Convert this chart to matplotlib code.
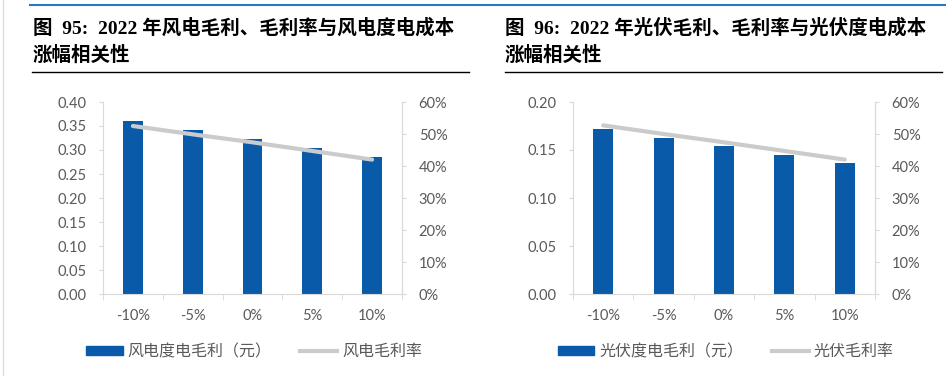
import matplotlib.pyplot as plt
from matplotlib.patches import Patch
from matplotlib.lines import Line2D
from matplotlib.ticker import FuncFormatter

categories = ['-10%', '-5%', '0%', '5%', '10%']

wind_profit = [0.360, 0.341, 0.323, 0.304, 0.286]
wind_margin = [52.5, 49.9, 47.4, 44.7, 42.0]

pv_profit = [0.1715, 0.162, 0.154, 0.1445, 0.1365]
pv_margin = [52.7, 50.0, 47.4, 44.7, 42.0]

titles = ['图  95:  2022 年风电毛利、毛利率与风电度电成本\n涨幅相关性',
          '图  96:  2022 年光伏毛利、毛利率与光伏度电成本\n涨幅相关性']
bar_labels = ['风电度电毛利（元）', '光伏度电毛利（元）']
line_labels = ['风电毛利率', '光伏毛利率']

bar_color = '#0A5AAA'
line_color = '#CBCBCB'
tick_color = '#595959'
axis_color = '#D9D9D9'

num_font = ['Lato', 'Noto Sans CJK SC']
cjk_font = ['Noto Sans CJK SC', 'DejaVu Sans']
title_font = ['Liberation Serif', 'Noto Sans CJK SC']

fig = plt.figure(figsize=(9.46, 3.76), dpi=100)

# frame lines
fig.add_artist(Line2D([3 / 946, 3 / 946], [0, 1], color='#DDDDDD', lw=1))
fig.add_artist(Line2D([30 / 946, 1], [1 - 5 / 376] * 2, color='#2E75C8', lw=1.5))
fig.add_artist(Line2D([32 / 946, 469 / 946], [1 - 72 / 376] * 2, color='black', lw=1))
fig.add_artist(Line2D([505 / 946, 942 / 946], [1 - 72 / 376] * 2, color='black', lw=1))

panels = [
    (103, 402, 33, wind_profit, wind_margin, 0.40, 0.05),
    (573, 875, 505, pv_profit, pv_margin, 0.20, 0.05),
]

for i, (x0, x1, tx, profit, margin, ymax, step) in enumerate(panels):
    fig.text(tx / 946, 1 - 18 / 376, titles[i], ha='left', va='top',
             fontsize=14, fontweight='bold', family=title_font,
             linespacing=1.5)

    ax = fig.add_axes([x0 / 946, 1 - 294 / 376, (x1 - x0) / 946, 192 / 376])
    xs = range(len(categories))
    ax.bar(xs, profit, width=0.33, color=bar_color, zorder=2)
    ax.set_xlim(-0.5, len(categories) - 0.5)
    ax.set_ylim(0, ymax)
    n = int(round(ymax / step))
    ax.set_yticks([k * step for k in range(n + 1)])
    ax.yaxis.set_major_formatter(FuncFormatter(lambda v, p: f'{v:.2f}'))
    ax.set_xticks(list(xs))
    ax.set_xticklabels(categories)
    ax.set_xticks([k - 0.5 for k in range(len(categories) + 1)], minor=True)
    ax.tick_params(axis='x', which='major', length=0, pad=11, colors=tick_color,
                   labelsize=10.5)
    ax.tick_params(axis='x', which='minor', length=4, color=axis_color)
    ax.tick_params(axis='y', length=3, color=axis_color, colors=tick_color,
                   labelsize=10.5, pad=9)
    for lab in ax.get_xticklabels() + ax.get_yticklabels():
        lab.set_family(num_font)
    ax.spines['top'].set_visible(False)
    for s in ['left', 'right', 'bottom']:
        ax.spines[s].set_color(axis_color)

    ax2 = ax.twinx()
    ax2.plot(list(xs), margin, color=line_color, lw=3, solid_capstyle='round',
             zorder=3)
    ax2.set_ylim(0, 60)
    ax2.set_yticks(range(0, 61, 10))
    ax2.yaxis.set_major_formatter(FuncFormatter(lambda v, p: f'{v:.0f}%'))
    ax2.tick_params(axis='y', length=3, color=axis_color, colors=tick_color,
                    labelsize=10.5, pad=9)
    for lab in ax2.get_yticklabels():
        lab.set_family(num_font)
    for s in ['top', 'left', 'bottom']:
        ax2.spines[s].set_visible(False)
    ax2.spines['right'].set_color(axis_color)

    handles = [Patch(color=bar_color), Line2D([], [], color=line_color, lw=3)]
    leg = ax.legend(handles, [bar_labels[i], line_labels[i]], loc='center',
                    bbox_to_anchor=(0.505, -0.3), ncol=2, frameon=False,
                    prop={'family': cjk_font, 'size': 11.5},
                    handlelength=2.3, handleheight=0.55, handletextpad=0.3,
                    columnspacing=1.8)
    for t in leg.get_texts():
        t.set_color(tick_color)

fig.savefig('out.png', dpi=100)
